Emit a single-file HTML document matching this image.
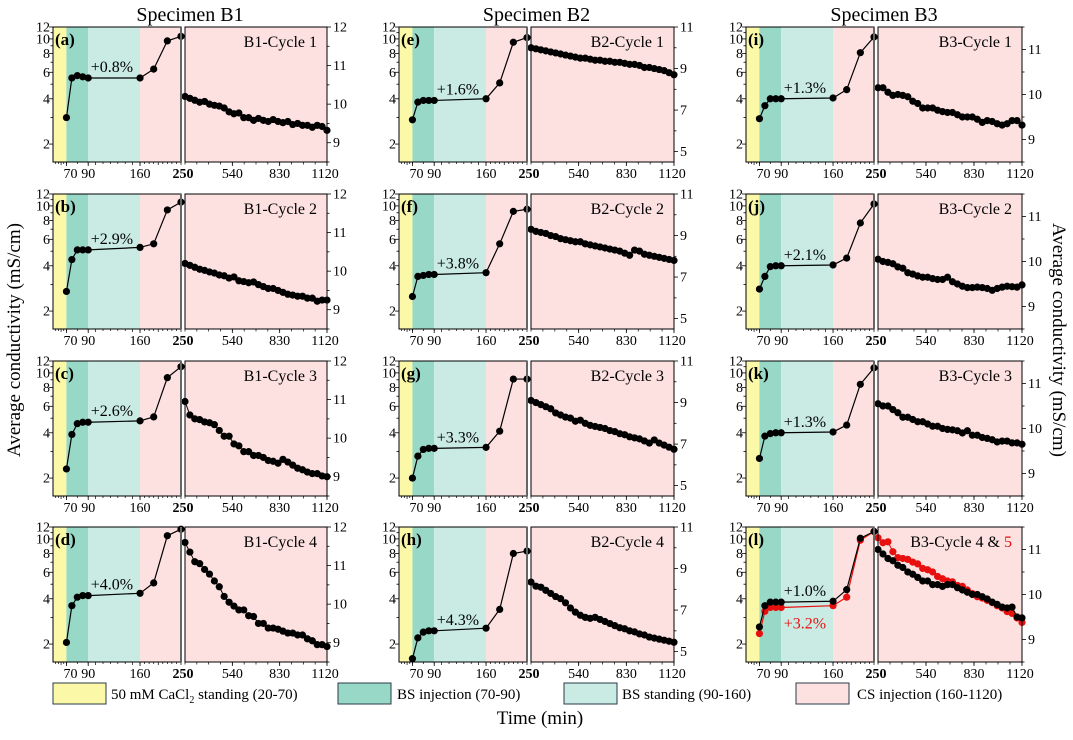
<!DOCTYPE html>
<html><head><meta charset="utf-8"><style>
body{margin:0;background:#fff;}
svg{display:block;}
svg text{font-family:"Liberation Serif","DejaVu Serif",serif;}
</style></head><body>
<svg id="chart" width="1073" height="740" viewBox="0 0 1073 740" font-family="Liberation Serif, serif" xmlns="http://www.w3.org/2000/svg"></svg>
<script>
// ---- data ----
const leftTimes = [70, 75, 80, 85, 90, 160, 190, 220, 250];
const rightTimes = [250,280,310,340,370,400,430,460,490,520,550,580,610,640,670,700,730,760,790,820,850,880,910,940,970,1000,1030,1060,1090,1120];
const panelIds = ["a","b","c","d","e","f","g","h","i","j","k","l"];
const cycleLabels = ["B1-Cycle 1","B1-Cycle 2","B1-Cycle 3","B1-Cycle 4","B2-Cycle 1","B2-Cycle 2","B2-Cycle 3","B2-Cycle 4","B3-Cycle 1","B3-Cycle 2","B3-Cycle 3","B3-Cycle 4 & "];
const percentLabels = ["+0.8%","+2.9%","+2.6%","+4.0%","+1.6%","+3.8%","+3.3%","+4.3%","+1.3%","+2.1%","+1.3%","+1.0%"];
const leftA = [3.0,5.5,5.7,5.6,5.5,5.5,6.3,9.7,10.4];
const leftB = [2.7,4.4,5.1,5.1,5.1,5.3,5.6,9.4,10.6];
const leftC = [2.3,3.9,4.6,4.7,4.7,4.8,5.1,9.3,11.0];
const leftD = [2.05,3.6,4.1,4.2,4.2,4.35,5.1,10.5,11.6];
const leftE = [2.9,3.8,3.9,3.9,3.9,4.0,5.1,9.5,10.2];
const leftF = [2.5,3.4,3.45,3.5,3.5,3.6,5.6,9.2,9.5];
const leftG = [2.0,2.8,3.1,3.15,3.15,3.2,4.1,9.1,9.1];
const leftH = [1.6,2.2,2.4,2.45,2.45,2.55,3.4,8.0,8.3];
const leftI = [2.95,3.6,4.0,4.0,4.0,4.05,4.6,8.1,10.3];
const leftJ = [2.8,3.4,3.95,4.0,4.0,4.05,4.5,7.7,10.3];
const leftK = [2.7,3.8,3.95,4.0,4.0,4.05,4.5,8.4,10.8];
const leftL = [2.6,3.6,3.8,3.8,3.8,3.85,4.6,10.1,11.2];
const leftL5 = [2.35,3.3,3.5,3.5,3.5,3.6,4.1,9.8,11.2];
const rightA = [10.2,10.15,10.1,10.05,10.07,10.0,9.97,9.95,9.9,9.8,9.75,9.77,9.65,9.65,9.58,9.63,9.58,9.55,9.6,9.55,9.52,9.55,9.47,9.5,9.45,9.45,9.4,9.45,9.42,9.32];
const rightB = [10.2,10.15,10.1,10.05,10.02,9.98,9.95,9.9,9.88,9.82,9.85,9.75,9.73,9.7,9.72,9.65,9.6,9.55,9.55,9.5,9.45,9.4,9.38,9.35,9.35,9.3,9.3,9.22,9.25,9.25];
const rightC = [10.95,10.6,10.5,10.48,10.42,10.4,10.35,10.2,10.05,10.05,9.85,9.8,9.65,9.65,9.55,9.55,9.5,9.42,9.4,9.35,9.45,9.38,9.3,9.22,9.18,9.12,9.08,9.08,9.02,9.0];
const rightD = [11.6,11.35,11.1,11.05,10.9,10.78,10.6,10.45,10.2,10.05,9.95,9.85,9.85,9.7,9.68,9.5,9.5,9.38,9.38,9.35,9.3,9.25,9.25,9.2,9.2,9.1,9.05,8.95,8.95,8.9];
const rightE = [10.0,9.95,9.9,9.85,9.8,9.75,9.7,9.65,9.6,9.55,9.5,9.5,9.45,9.4,9.4,9.35,9.35,9.3,9.3,9.25,9.2,9.2,9.15,9.05,9.05,9.0,8.95,8.9,8.8,8.7];
const rightF = [9.3,9.2,9.15,9.1,9.0,8.95,8.85,8.8,8.75,8.7,8.7,8.6,8.55,8.5,8.45,8.4,8.35,8.3,8.25,8.15,8.05,8.3,8.25,8.1,8.05,8.0,7.95,7.9,7.85,7.8];
const rightG = [9.1,9.0,8.9,8.8,8.7,8.5,8.4,8.3,8.25,8.1,8.15,8.0,7.9,7.85,7.8,7.75,7.65,7.6,7.5,7.45,7.35,7.3,7.25,7.15,7.05,7.2,7.05,6.95,6.85,6.75];
const rightH = [8.35,8.15,8.1,7.95,7.8,7.65,7.55,7.35,7.1,6.9,6.75,6.65,6.6,6.65,6.55,6.45,6.35,6.25,6.15,6.1,6.0,5.95,5.85,5.8,5.7,5.65,5.6,5.55,5.5,5.45];
const rightI = [10.15,10.15,10.05,9.98,10.0,9.98,9.95,9.85,9.8,9.7,9.7,9.7,9.65,9.62,9.6,9.6,9.55,9.5,9.5,9.5,9.45,9.38,9.42,9.4,9.35,9.32,9.35,9.42,9.42,9.32];
const rightJ = [10.05,10.0,9.98,9.95,9.88,9.85,9.75,9.72,9.68,9.65,9.65,9.62,9.6,9.6,9.65,9.55,9.5,9.45,9.42,9.42,9.43,9.42,9.4,9.36,9.4,9.43,9.45,9.44,9.43,9.48];
const rightK = [10.55,10.5,10.5,10.42,10.35,10.25,10.25,10.2,10.15,10.15,10.1,10.05,10.05,10.0,9.98,9.97,9.95,9.9,9.95,9.85,9.85,9.8,9.78,9.75,9.7,9.72,9.72,9.68,9.68,9.65];
const rightL = [11.0,10.9,10.8,10.75,10.65,10.6,10.5,10.45,10.38,10.3,10.3,10.22,10.22,10.18,10.22,10.22,10.15,10.1,10.05,10.0,10.0,9.95,9.9,9.83,9.78,9.72,9.7,9.72,9.5,9.48];
const rightL5 = [11.26,11.15,11.17,10.95,10.82,10.8,10.78,10.72,10.68,10.58,10.55,10.5,10.4,10.35,10.3,10.28,10.2,10.18,10.1,10.02,9.95,9.92,9.87,9.82,9.75,9.7,9.62,9.58,9.48,9.38];
const leftTickVals = [2,4,6,8,10,12];
const leftXTicks = [70,90,160];
const rightXTicks = [540,830,1120];
const rightYTicksCol = [[9,10,11,12],[5,7,9,11],[9,10,11]];
const rightYDomainCol = [[8.5,12],[4.5,11],[8.5,11.5]];
const specimenTitles = ["Specimen B1","Specimen B2","Specimen B3"];

const leftSeries = [leftA,leftB,leftC,leftD,leftE,leftF,leftG,leftH,leftI,leftJ,leftK,leftL];
const rightSeries = [rightA,rightB,rightC,rightD,rightE,rightF,rightG,rightH,rightI,rightJ,rightK,rightL];

// ---- layout ----
const cols = [{lx:53,lw:128,rx:185,rw:142},{lx:399,lw:128,rx:531,rw:143},{lx:746,lw:128,rx:878,rw:144}];
const rowsTop = [27,194,361,527];
const H = 135;
const NS = "http://www.w3.org/2000/svg";
const svg = document.getElementById('chart');
const FF = '"Liberation Serif", serif';
function el(tag, attrs, parent){const e=document.createElementNS(NS,tag);for(const k in attrs)e.setAttribute(k,attrs[k]);(parent||svg).appendChild(e);return e;}
function txt(s, attrs, parent){attrs['font-family']=FF;const t=el('text',attrs,parent);t.textContent=s;return t;}

const knotT=[20,70,90,160,250], knotF=[0,0.105,0.275,0.68,1];
function lxScale(t,c){let f=1;for(let i=0;i<knotT.length-1;i++){if(t<=knotT[i+1]){f=knotF[i]+(t-knotT[i])/(knotT[i+1]-knotT[i])*(knotF[i+1]-knotF[i]);break;}}return cols[c].lx+f*cols[c].lw;}
const LMIN=Math.log10(1.52), LMAX=Math.log10(12);
function lyScale(v,top){return top+(LMAX-Math.log10(v))/(LMAX-LMIN)*H;}
function rxScale(t,c){return cols[c].rx+(t-250)/(1120-250)*cols[c].rw;}
function ryScale(v,top,c){const d=rightYDomainCol[c];return top+(d[1]-v)/(d[1]-d[0])*H;}

for(let c=0;c<3;c++){
  const t=txt(specimenTitles[c],{x:(cols[c].lx+cols[c].rx+cols[c].rw)/2,y:21,'font-size':20,'text-anchor':'middle'});
  
  
}

for(let c=0;c<3;c++){for(let r=0;r<4;r++){
  const p=c*4+r, top=rowsTop[r], C=cols[c];
  const g=el('g',{});
  
  
  const bands=[[20,70,'#fbf9a8'],[70,90,'#97d8c6'],[90,160,'#c9ebe3'],[160,250,'#fde1e1']];
  bands.forEach((b,i)=>{const x1=lxScale(b[0],c),x2=lxScale(b[1],c);
    const rr=el('rect',{x:x1,y:top,width:x2-x1,height:H,fill:b[2]},g);
    
    });
  const rb=el('rect',{x:C.rx,y:top,width:C.rw,height:H,fill:'#fde1e1'},g);
  
  
  for(let v=2;v<=12;v++){const y=lyScale(v,top);const major=leftTickVals.includes(v);
    el('line',{x1:C.lx-(major?4:2.5),x2:C.lx,y1:y,y2:y,stroke:'#000','stroke-width':0.8},g);
    if(major){const tl=txt(String(v),{x:C.lx-3,y:y+4.5,'font-size':14,'text-anchor':'end'},g);
      
      }}
  for(let t=30;t<=250;t+=10){const x=lxScale(t,c);el('line',{x1:x,x2:x,y1:top+H,y2:top+H+(t%50===0?3:2),stroke:'#000','stroke-width':0.7},g);}
  leftXTicks.forEach(t=>{const x=lxScale(t,c);el('line',{x1:x,x2:x,y1:top+H,y2:top+H+4,stroke:'#000','stroke-width':0.8},g);
    const tl=txt(String(t),{x:x+(t===70?4:0),y:top+H+16,'font-size':14,'text-anchor':'middle'},g);
    
    });
  const t250=txt('250',{x:C.lx+C.lw+2,y:top+H+16,'font-size':14,'font-weight':'bold','text-anchor':'middle'},g);
  
  
  for(let t=250;t<=1120;t+=72.5){const x=rxScale(t,c);el('line',{x1:x,x2:x,y1:top+H,y2:top+H+2.5,stroke:'#000','stroke-width':0.7},g);}
  rightXTicks.forEach(t=>{const x=rxScale(t,c);el('line',{x1:x,x2:x,y1:top+H,y2:top+H+4,stroke:'#000','stroke-width':0.8},g);
    const tl=txt(String(t),{x:t===1120?x-2:x,y:top+H+16,'font-size':14,'text-anchor':'middle'},g);
    
    });
  const d=rightYDomainCol[c], step=c===1?1:0.5;
  for(let v=Math.ceil(d[0]/step)*step;v<=d[1]+1e-9;v+=step){const y=ryScale(v,top,c);const major=rightYTicksCol[c].includes(v);
    el('line',{x1:C.rx+C.rw,x2:C.rx+C.rw+(major?4:2.5),y1:y,y2:y,stroke:'#000','stroke-width':0.8},g);
    if(major){const tl=txt(String(v),{x:C.rx+C.rw+6,y:y+4.5,'font-size':14},g);
      
      }}
  function drawLeft(arr,color,name){
    const pts=arr.map((v,i)=>lxScale(leftTimes[i],c)+','+lyScale(v,top)).join(' ');
    const pl=el('polyline',{points:pts,fill:'none',stroke:color,'stroke-width':1.2},g);
    
    
    arr.forEach((v,i)=>{const ci=el('circle',{cx:lxScale(leftTimes[i],c),cy:lyScale(v,top),r:3.6,fill:color},g);
      
      });
  }
  function drawRight(arr,color,name){
    const pts=arr.map((v,i)=>rxScale(rightTimes[i],c)+','+ryScale(v,top,c)).join(' ');
    const pl=el('polyline',{points:pts,fill:'none',stroke:color,'stroke-width':1},g);
    
    
    arr.forEach((v,i)=>{const ci=el('circle',{cx:rxScale(rightTimes[i],c),cy:ryScale(v,top,c),r:3.6,fill:color},g);
      
      });
  }
  if(p===11){drawLeft(leftL5,'#e8100f','cycle5-left');drawRight(rightL5,'#e8100f','cycle5-right');}
  drawLeft(leftSeries[p],'#000','left-series');
  drawRight(rightSeries[p],'#000','right-series');
  const f1=el('rect',{x:C.lx,y:top,width:C.lw,height:H,fill:'none',stroke:'#000','stroke-width':1},g);
  
  
  el('line',{x1:C.lx+C.lw,x2:C.lx+C.lw,y1:top,y2:top+H,stroke:'#666','stroke-width':2},g);
  const f2=el('rect',{x:C.rx,y:top,width:C.rw,height:H,fill:'none',stroke:'#000','stroke-width':1},g);
  
  
  const pl=txt('('+panelIds[p]+')',{x:C.lx+2,y:top+18,'font-size':17,'font-weight':'bold'},g);
  
  
  const cl=txt(cycleLabels[p],{x:C.rx+C.rw-10,y:top+20,'font-size':16,'text-anchor':'end'},g);
  if(p===11){cl.textContent='';const a=el('tspan',{},cl);a.textContent='B3-Cycle 4 & ';const b=el('tspan',{fill:'#e8100f'},cl);b.textContent='5';}
  
  
  const py=lyScale(leftSeries[p][4],top);
  const an=txt(percentLabels[p],{x:C.lx+C.lw*0.46,y:py-6,'font-size':16,'text-anchor':'middle'},g);
  
  
  if(p===11){const py5=lyScale(leftL5[4],top);
    const an5=txt('+3.2%',{x:C.lx+C.lw*0.46,y:py5+21,'font-size':16,'text-anchor':'middle',fill:'#e8100f'},g);
    
    }
}}

const yl=txt('Average conductivity (mS/cm)',{x:0,y:0,'font-size':19,'text-anchor':'middle',transform:'translate(20,340) rotate(-90)'});


const yr=txt('Average conductivity (mS/cm)',{x:0,y:0,'font-size':19,'text-anchor':'middle',transform:'translate(1053,340) rotate(90)'});


const xt=txt('Time (min)',{x:540,y:724,'font-size':19,'text-anchor':'middle'});



const legendColors=['#fbf9a8','#97d8c6','#c9ebe3','#fde1e1'];
const legendX=[53,338,564,796];
const legendTX=[111,397,622,857];
const legendTexts=['50 mM CaCl','BS injection (70-90)','BS standing (90-160)','CS injection (160-1120)'];
legendColors.forEach((col,i)=>{
  const lg=el('g',{});
  
  
  el('rect',{x:legendX[i],y:683,width:53,height:21,fill:col,stroke:'#2a3a4a','stroke-width':1},lg);
  const t=txt(legendTexts[i],{x:legendTX[i],y:699,'font-size':15},lg);
  if(i===0){const s=el('tspan',{'font-size':10,dy:4},t);s.textContent='2';const r=el('tspan',{dy:-4},t);r.textContent=' standing (20-70)';}
});
</script>
</body></html>
